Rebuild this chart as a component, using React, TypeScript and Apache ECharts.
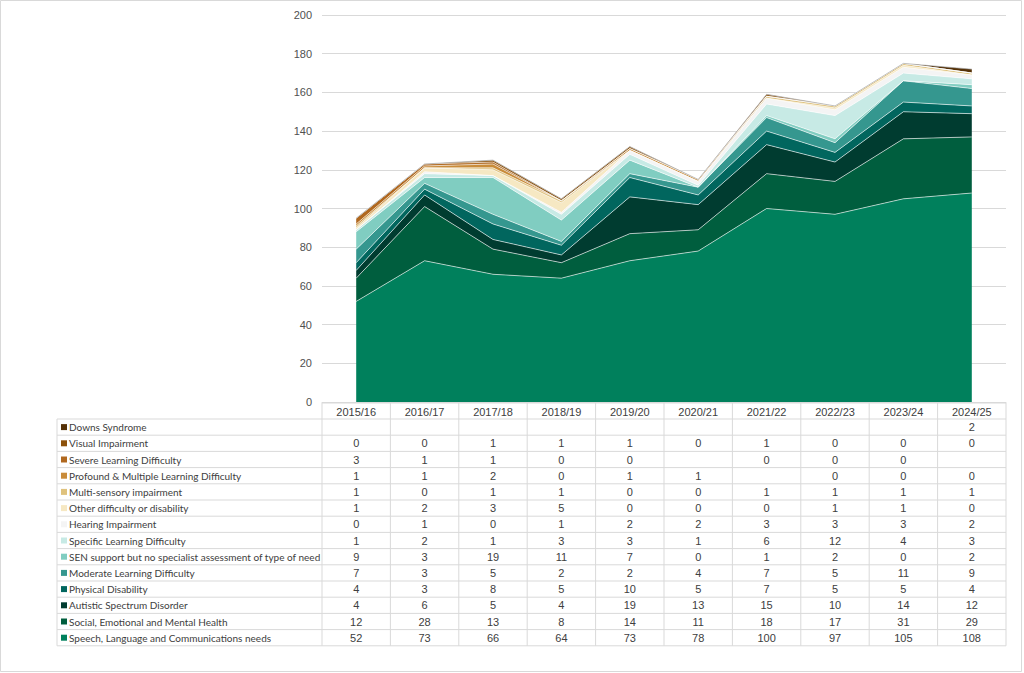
import React, { useEffect, useRef } from 'react';
import * as echarts from 'echarts';

const categories = ['2015/16', '2016/17', '2017/18', '2018/19', '2019/20', '2020/21', '2021/22', '2022/23', '2023/24', '2024/25'];

// Table order (top to bottom); stacking is bottom-up (reverse)
const downsSyndrome: (number | null)[] = [null, null, null, null, null, null, null, null, null, 2];
const visualImpairment: (number | null)[] = [0, 0, 1, 1, 1, 0, 1, 0, 0, 0];
const severeLearning: (number | null)[] = [3, 1, 1, 0, 0, null, 0, 0, 0, null];
const profoundMultiple: (number | null)[] = [1, 1, 2, 0, 1, 1, null, 0, 0, 0];
const multiSensory: (number | null)[] = [1, 0, 1, 1, 0, 0, 1, 1, 1, 1];
const otherDifficulty: (number | null)[] = [1, 2, 3, 5, 0, 0, 0, 1, 1, 0];
const hearingImpairment: (number | null)[] = [0, 1, 0, 1, 2, 2, 3, 3, 3, 2];
const specificLearning: (number | null)[] = [1, 2, 1, 3, 3, 1, 6, 12, 4, 3];
const senSupport: (number | null)[] = [9, 3, 19, 11, 7, 0, 1, 2, 0, 2];
const moderateLearning: (number | null)[] = [7, 3, 5, 2, 2, 4, 7, 5, 11, 9];
const physicalDisability: (number | null)[] = [4, 3, 8, 5, 10, 5, 7, 5, 5, 4];
const autisticSpectrum: (number | null)[] = [4, 6, 5, 4, 19, 13, 15, 10, 14, 12];
const socialEmotional: (number | null)[] = [12, 28, 13, 8, 14, 11, 18, 17, 31, 29];
const speechLanguage: (number | null)[] = [52, 73, 66, 64, 73, 78, 100, 97, 105, 108];

const rows = [
  { name: 'Downs Syndrome', data: downsSyndrome, color: '#563208' },
  { name: 'Visual Impairment', data: visualImpairment, color: '#8c510a' },
  { name: 'Severe Learning Difficulty', data: severeLearning, color: '#b0681f' },
  { name: 'Profound & Multiple Learning Difficulty', data: profoundMultiple, color: '#c98c3a' },
  { name: 'Multi-sensory impairment', data: multiSensory, color: '#dfc27d' },
  { name: 'Other difficulty or disability', data: otherDifficulty, color: '#f6e8c3' },
  { name: 'Hearing Impairment', data: hearingImpairment, color: '#f4f4f4' },
  { name: 'Specific Learning Difficulty', data: specificLearning, color: '#c7eae5' },
  { name: 'SEN support but no specialist assessment of type of need', data: senSupport, color: '#80cdc1' },
  { name: 'Moderate Learning Difficulty', data: moderateLearning, color: '#35978f' },
  { name: 'Physical Disability', data: physicalDisability, color: '#01665e' },
  { name: 'Autistic Spectrum Disorder', data: autisticSpectrum, color: '#003c30' },
  { name: 'Social, Emotional and Mental Health', data: socialEmotional, color: '#005e3e' },
  { name: 'Speech, Language and Communications needs', data: speechLanguage, color: '#00805c' },
];

const FONT = '"Liberation Sans", Arial, sans-serif';
const LABEL_FONT = 'Lato, "Liberation Sans", sans-serif';
const GRID_COLOR = '#d9d9d9';
const TEXT_COLOR = '#404040';

export default function App() {
  const ref = useRef<HTMLDivElement>(null);
  useEffect(() => {
    const chart = echarts.init(ref.current!, null, { renderer: 'svg' });
    const stackOrder = [...rows].reverse();
    const option: any = {
      animation: false,
      backgroundColor: '#ffffff',
      grid: { left: 322, right: 18, top: 15, bottom: 271, containLabel: false },
      xAxis: {
        type: 'category',
        data: categories,
        boundaryGap: true,
        axisLine: { show: true, lineStyle: { color: GRID_COLOR } },
        axisTick: { show: false },
        axisLabel: { show: true, margin: 4, fontSize: 11, color: TEXT_COLOR, fontFamily: FONT },
        splitLine: { show: false },
      },
      yAxis: {
        type: 'value',
        min: 0,
        max: 200,
        interval: 20,
        axisLine: { show: false },
        axisTick: { show: false },
        axisLabel: { fontSize: 11, color: '#505050', fontFamily: FONT, margin: 10 },
        splitLine: { lineStyle: { color: GRID_COLOR, width: 1 } },
      },
      series: stackOrder.map((r, idx) => ({
        name: r.name,
        type: 'line',
        stack: 'total',
        symbol: 'none',
        data: r.data.map((v) => (v == null ? 0 : v)),
        lineStyle: idx === stackOrder.length - 1
          ? { color: 'rgba(150,150,150,0.6)', width: 1 }
          : { color: 'rgba(255,255,255,0.75)', width: 0.8 },
        areaStyle: { color: r.color, opacity: 1 },
        itemStyle: { color: r.color },
        emphasis: { disabled: true },
      })),
    };
    chart.setOption(option);

    const c0 = chart.convertToPixel({ xAxisIndex: 0 }, 0) as number;
    const c1 = chart.convertToPixel({ xAxisIndex: 0 }, 1) as number;
    const band = c1 - c0;
    const tableX = c0 - band / 2;
    const tableRight = tableX + band * categories.length;
    const axisY = chart.convertToPixel({ yAxisIndex: 0 }, 0) as number;
    const headerTop = axisY + 1;
    const bodyTop = axisY + 17;
    const rowH = 16.2;
    const legendLeft = 57;
    const bodyBottom = bodyTop + rowH * rows.length;

    const g: any[] = [];
    g.push({ type: 'rect', silent: true, shape: { x: 0.5, y: 0.5, width: 1021, height: 671 }, style: { fill: 'none', stroke: GRID_COLOR, lineWidth: 1 } });
    const hline = (x1: number, x2: number, y: number) =>
      g.push({ type: 'line', silent: true, shape: { x1, y1: y, x2, y2: y }, style: { stroke: GRID_COLOR, lineWidth: 1 } });
    const vline = (x: number, y1: number, y2: number) =>
      g.push({ type: 'line', silent: true, shape: { x1: x, y1, x2: x, y2 }, style: { stroke: GRID_COLOR, lineWidth: 1 } });

    hline(tableX, tableRight, headerTop);
    for (let k = 0; k <= rows.length; k++) hline(legendLeft, tableRight, bodyTop + k * rowH);
    vline(legendLeft, bodyTop, bodyBottom);
    for (let j = 0; j <= categories.length; j++) vline(tableX + j * band, headerTop, bodyBottom);

    rows.forEach((r, i) => {
      const cy = bodyTop + rowH * i + rowH / 2;
      g.push({ type: 'rect', silent: true, shape: { x: 61, y: cy - 3, width: 6, height: 6 }, style: { fill: r.color } });
      g.push({
        type: 'text', silent: true,
        style: { text: r.name, x: 69, y: cy, fill: TEXT_COLOR, fontSize: 10, fontFamily: LABEL_FONT, align: 'left', verticalAlign: 'middle' },
      });
      r.data.forEach((v, j) => {
        if (v == null) return;
        g.push({
          type: 'text', silent: true,
          style: { text: String(v), x: tableX + band * j + band / 2, y: cy, fill: TEXT_COLOR, fontSize: 11, fontFamily: FONT, align: 'center', verticalAlign: 'middle' },
        });
      });
    });

    chart.setOption({ graphic: g });
    return () => chart.dispose();
  }, []);
  return <div ref={ref} style={{ position: 'absolute', left: 0, top: 0, width: 1024, height: 673 }} />;
}
